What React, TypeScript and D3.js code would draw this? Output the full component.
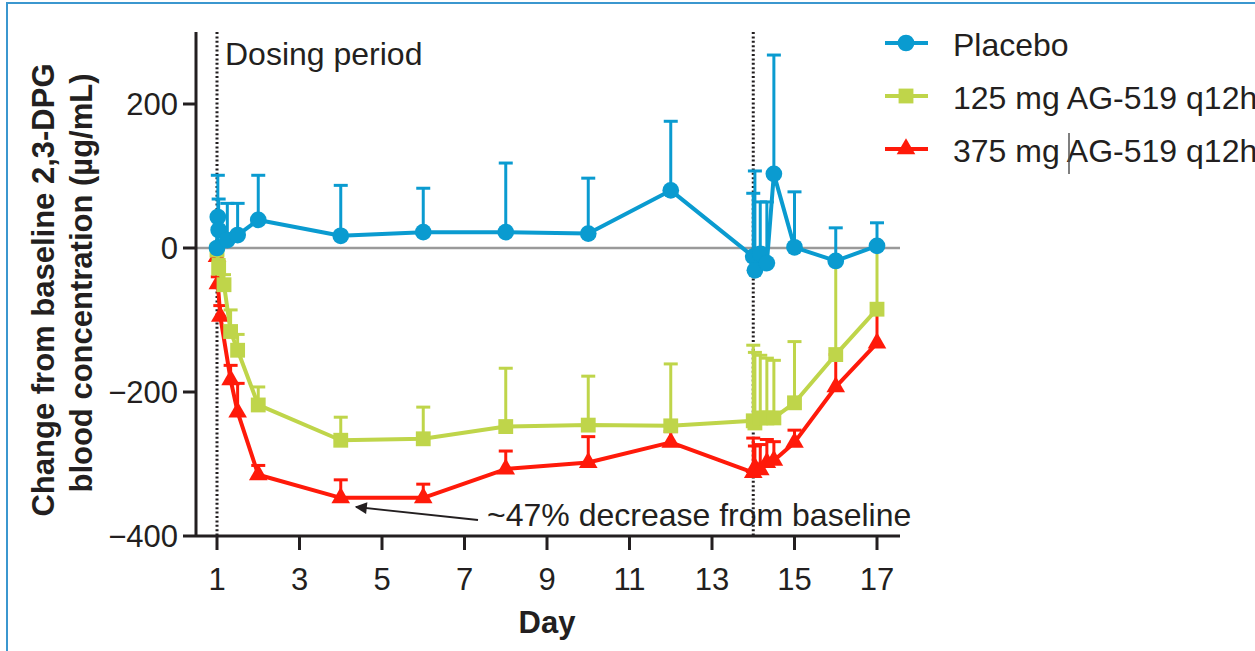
import React from 'react';
import * as d3 from 'd3';

// values (change from baseline, µg/mL; error bars drawn upward)
const placeboDay = [1, 1.02, 1.04, 1.25, 1.5, 2, 4, 6, 8, 10, 12, 14, 14.04, 14.17, 14.33, 14.5, 15, 16, 17];
const placeboMean = [0, 43, 25, 11, 18, 39, 17, 22, 22, 20, 80, -12, -31, -8, -21, 103, 1, -18, 3];
const placeboSd = [0, 58, 43, 51, 44, 62, 70, 61, 96, 77, 96, 88, 138, 72, 85, 165, 77, 46, 32];

const lowDay = [1, 1.04, 1.17, 1.33, 1.5, 2, 4, 6, 8, 10, 12, 14, 14.04, 14.17, 14.33, 14.5, 15, 16, 17];
const lowMean = [-3, -28, -51, -116, -142, -218, -267, -265, -248, -246, -247, -240, -243, -236, -236, -236, -215, -148, -85];
const lowSd = [0, 12, 14, 30, 22, 25, 32, 44, 81, 68, 86, 105, 98, 87, 83, 80, 85, 128, 85];

const highDay = [1, 1.02, 1.08, 1.33, 1.5, 2, 4, 6, 8, 10, 12, 14, 14.04, 14.17, 14.33, 14.5, 15, 16, 17];
const highMean = [-12, -50, -95, -183, -228, -315, -347, -347, -307, -298, -270, -312, -305, -308, -298, -295, -270, -193, -132];
const highSd = [0, 10, 15, 20, 40, 13, 25, 19, 25, 36, 15, 48, 30, 35, 32, 26, 17, 45, 40];

const xTicks = [1, 3, 5, 7, 9, 11, 13, 15, 17];
const yTicks = [200, 0, -200, -400];
const doseLines = [1, 14];
const legendLabels = ['Placebo', '125 mg AG-519 q12h', '375 mg AG-519 q12h'];

const FONT = '"Liberation Sans", Arial, sans-serif';
const INK = '#231f20';

const series = [
  { name: legendLabels[2], day: highDay, mean: highMean, sd: highSd, color: '#ff1a0a', symbol: d3.symbolTriangle, size: 150 },
  { name: legendLabels[1], day: lowDay, mean: lowMean, sd: lowSd, color: '#bfd54a', symbol: d3.symbolSquare, size: 220 },
  { name: legendLabels[0], day: placeboDay, mean: placeboMean, sd: placeboSd, color: '#0a9bd0', symbol: d3.symbolCircle, size: 220 },
];

export default function App() {
  const x = d3.scaleLinear().domain([1, 17]).range([217, 877]);
  const y = d3.scaleLinear().domain([-400, 300]).range([536, 32]);
  const axisX = 196;
  const plotRight = 900;

  const line = d3.line<number>();

  return (
    <svg
      width={1255}
      height={651}
      style={{ position: 'fixed', left: 0, top: 0, background: '#fff' }}
      fontFamily={FONT}
    >
      <rect x={0} y={0} width={1255} height={651} fill="#fff" />
      <rect x={7} y={3} width={1400} height={800} fill="none" stroke="#3b97cf" strokeWidth={2} />

      {/* zero reference */}
      <line x1={axisX} x2={plotRight} y1={y(0)} y2={y(0)} stroke="#9a9a9a" strokeWidth={2.5} />

      {/* dosing period markers */}
      {doseLines.map((d) => (
        <line key={d} x1={x(d)} x2={x(d)} y1={y(300)} y2={y(-400)} stroke={INK}
          strokeWidth={3} strokeDasharray="2 2.4" />
      ))}
      <text x={x(1) + 8} y={65} fontSize={32} fill={INK}>Dosing period</text>

      {/* series: error bars, lines, markers */}
      {series.map((s) => {
        const pts = s.day.map((d, i) => [x(d), y(s.mean[i])] as [number, number]);
        const sym = d3.symbol(s.symbol, s.size)() || '';
        return (
          <g key={s.name}>
            {s.day.map((d, i) => {
              if (!s.sd[i]) return null;
              const cx = x(d);
              const top = y(s.mean[i] + s.sd[i]);
              return (
                <g key={i} stroke={s.color} strokeWidth={3}>
                  <line x1={cx} x2={cx} y1={y(s.mean[i])} y2={top} />
                  <line x1={cx - 7} x2={cx + 7} y1={top} y2={top} />
                </g>
              );
            })}
            <path d={line(pts) || ''} fill="none" stroke={s.color} strokeWidth={4} strokeLinejoin="round" />
            {pts.map((p, i) => (
              <path key={i} d={sym} transform={`translate(${p[0]},${p[1]})`} fill={s.color} />
            ))}
          </g>
        );
      })}

      {/* axes */}
      <line x1={axisX} x2={axisX} y1={y(300)} y2={y(-400)} stroke={INK} strokeWidth={3} />
      <line x1={axisX} x2={plotRight} y1={y(-400)} y2={y(-400)} stroke={INK} strokeWidth={3} />
      {yTicks.map((t) => (
        <g key={t}>
          <line x1={axisX - 13} x2={axisX} y1={y(t)} y2={y(t)} stroke={INK} strokeWidth={3} />
          <text x={axisX - 18} y={y(t)} dy="0.35em" textAnchor="end" fontSize={31} fill={INK}>
            {t < 0 ? `\u2212${Math.abs(t)}` : t}
          </text>
        </g>
      ))}
      {xTicks.map((t) => (
        <g key={t}>
          <line x1={x(t)} x2={x(t)} y1={y(-400)} y2={y(-400) + 14} stroke={INK} strokeWidth={3} />
          <text x={x(t)} y={590} textAnchor="middle" fontSize={31} fill={INK}>{t}</text>
        </g>
      ))}
      <text x={(x(1) + x(17)) / 2} y={633} textAnchor="middle" fontSize={31} fontWeight="bold" fill={INK}>Day</text>
      <text transform="translate(54,290) rotate(-90)" textAnchor="middle" fontSize={31} fontWeight="bold" fill={INK}>
        Change from baseline 2,3-DPG
      </text>
      <text transform="translate(92,283) rotate(-90)" textAnchor="middle" fontSize={31} fontWeight="bold" fill={INK}>
        blood concentration (µg/mL)
      </text>

      {/* annotation */}
      <defs>
        <marker id="arrowHead" viewBox="0 0 10 10" refX={9} refY={5} markerWidth={22} markerHeight={12}
          markerUnits="userSpaceOnUse" orient="auto">
          <path d="M0,0 L10,5 L0,10 z" fill={INK} />
        </marker>
      </defs>
      <line x1={478} y1={520} x2={356} y2={507} stroke={INK} strokeWidth={1.8} markerEnd="url(#arrowHead)" />
      <text x={487} y={526} fontSize={32} fill={INK}>~47% decrease from baseline</text>

      {/* legend */}
      {[...series].reverse().map((s, i) => {
        const ly = 43 + i * 53;
        const sym = d3.symbol(s.symbol, s.size)() || '';
        return (
          <g key={s.name}>
            <line x1={885} x2={928} y1={ly} y2={ly} stroke={s.color} strokeWidth={4} />
            <path d={sym} transform={`translate(906,${ly})`} fill={s.color} />
            <text x={953} y={ly + 13} fontSize={32} fill={INK}>{s.name}</text>
          </g>
        );
      })}
      <line x1={1069} x2={1069} y1={133} y2={174} stroke="#555" strokeWidth={1.5} />
    </svg>
  );
}
